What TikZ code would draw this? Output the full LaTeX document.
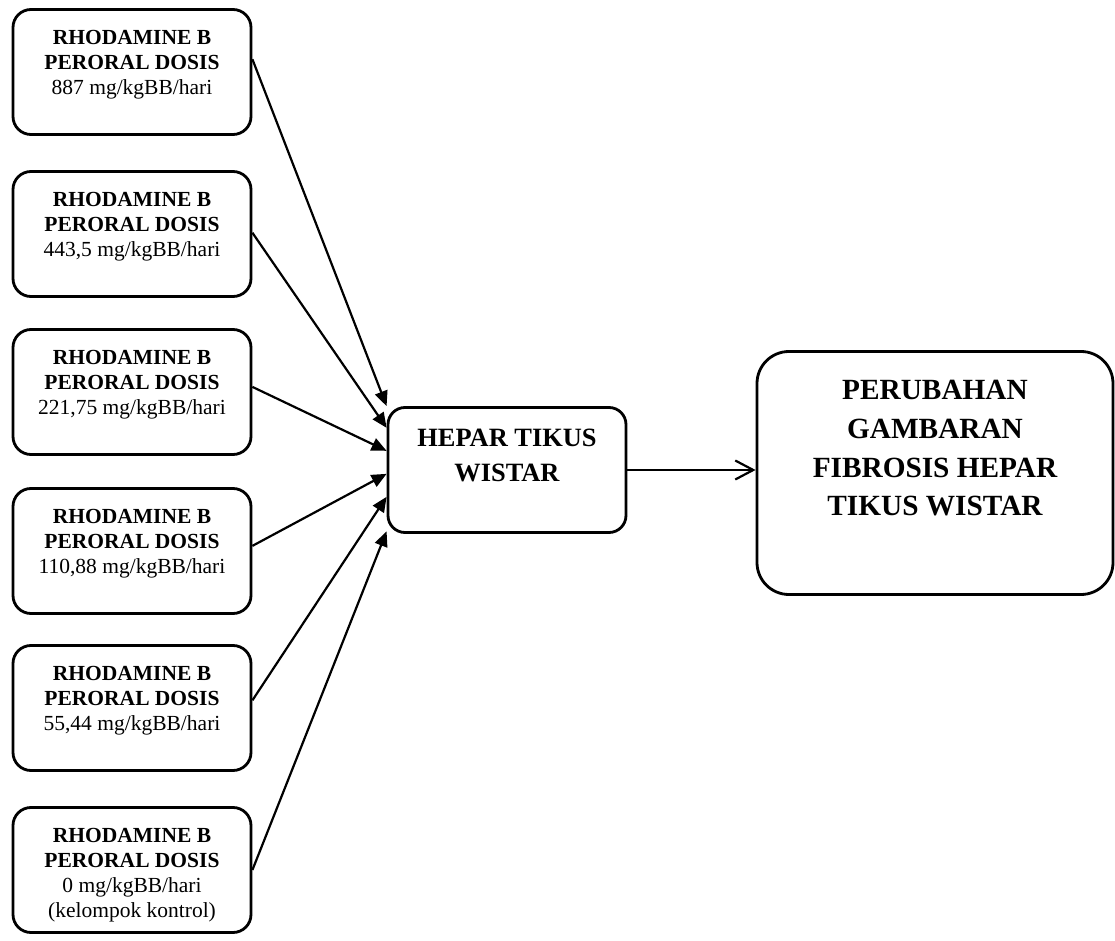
\documentclass[tikz,border=0pt]{standalone}
\usepackage{fontspec}
\setmainfont{Liberation Serif}
\usetikzlibrary{positioning,calc,arrows.meta}
\tikzset{
box/.style={draw, line width=1.4pt, rounded corners=9pt, minimum width=119pt, minimum height=62.5pt, inner sep=0pt},
bigbox/.style={box, rounded corners=16pt, minimum width=178pt, minimum height=121.5pt},
boxtext/.style={inner sep=0pt, align=center, font=\fontsize{10.75}{12.5}\selectfont},
feed/.style={line width=1.1pt, -{Triangle[length=7.5pt,width=6.5pt]}},
result/.style={line width=1.1pt, -{Straight Barb[length=9pt,width=9.5pt,line width=1.1pt]}}
}
\newcommand{\rhoB}{\textbf{RHODAMINE B}\\\textbf{PERORAL DOSIS}}

\begin{document}
\begin{tikzpicture}[x=0.5pt,y=-0.5pt]
\useasboundingbox (0,0) rectangle (1115,941);

% dosis kelompok
\foreach \i/\y/\dose in {1/72/{887 mg/kgBB/hari}, 2/234/{443,5 mg/kgBB/hari}, 3/392/{221,75 mg/kgBB/hari},
  4/551/{110,88 mg/kgBB/hari}, 5/708/{55,44 mg/kgBB/hari}, 6/870/{0 mg/kgBB/hari\\(kelompok kontrol)}} {
  \node[box] (d\i) at (132,\y) {};
  \node[boxtext, below=11pt of d\i.north] (d\i t) {\rhoB\\\dose};
}

% hepar
\node[box, rounded corners=8.5pt] (hepar) at (507,470) {};
\node[boxtext, font=\fontsize{13.2}{17.5}\selectfont\bfseries, below=11.5pt of hepar.north] (hepar t) {HEPAR TIKUS\\WISTAR};

% hasil
\node[bigbox] (fib) at (935,473) {};
\node[boxtext, font=\fontsize{14.65}{19.3}\selectfont\bfseries, below=15pt of fib.north] (fib t)
  {PERUBAHAN\\GAMBARAN\\FIBROSIS HEPAR\\TIKUS WISTAR};

% panah
\foreach \i/\s/\e in {1/0.4/0.0, 2/0.49/0.17, 3/0.46/0.35, 4/0.46/0.53, 5/0.44/0.71, 6/0.5/0.98}
  \draw[feed] ($(d\i.north east)!\s!(d\i.south east)$) -- ($(hepar.north west)!\e!(hepar.south west)$);
\draw[result] (hepar.east) -- (hepar.east -| fib.west);
\end{tikzpicture}
\end{document}
